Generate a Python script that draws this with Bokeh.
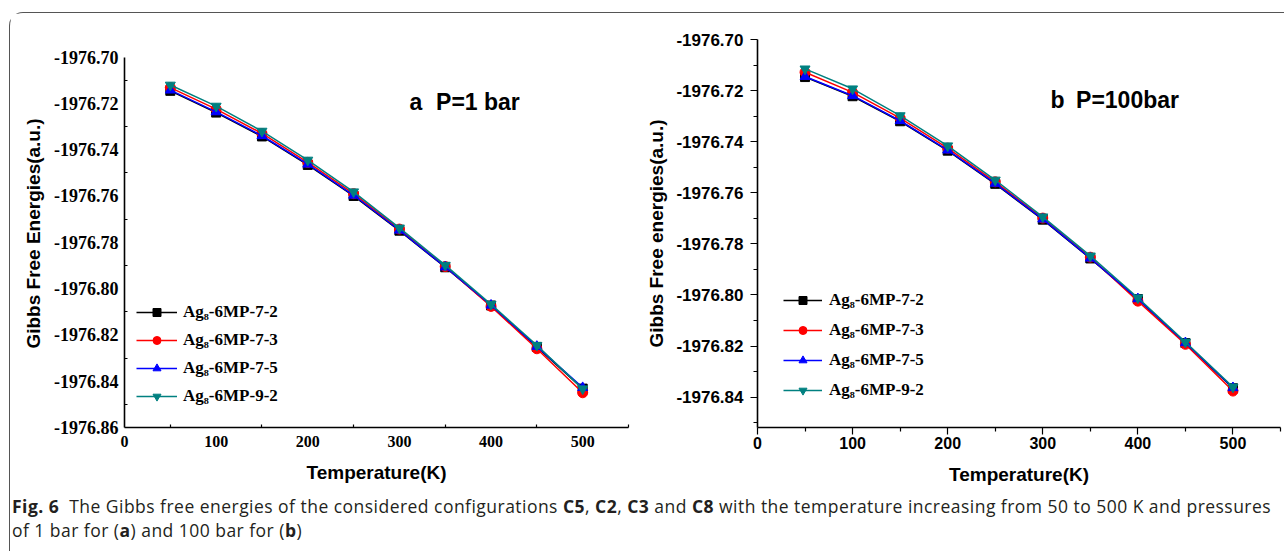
from bokeh.plotting import figure
from bokeh.models import (Range1d, FixedTicker, PrintfTickFormatter, Legend,
                          LegendItem, Label, Div)
from bokeh.layouts import row, column
from bokeh.embed import file_html
from bokeh.resources import INLINE

# ---------------- data ----------------
temperature = [50, 100, 150, 200, 250, 300, 350, 400, 450, 500]
series_names = ["Ag\u2088-6MP-7-2", "Ag\u2088-6MP-7-3", "Ag\u2088-6MP-7-5", "Ag\u2088-6MP-9-2"]

# panel a, P = 1 bar
a_7_2 = [-1976.7146, -1976.7240, -1976.7343, -1976.7466, -1976.7600,
         -1976.7750, -1976.7908, -1976.8073, -1976.8252, -1976.8432]
a_7_3 = [-1976.7132, -1976.7225, -1976.7330, -1976.7455, -1976.7590,
         -1976.7743, -1976.7905, -1976.8077, -1976.8260, -1976.8450]
a_7_5 = [-1976.7143, -1976.7237, -1976.7340, -1976.7463, -1976.7597,
         -1976.7748, -1976.7907, -1976.8072, -1976.8250, -1976.8428]
a_9_2 = [-1976.7121, -1976.7212, -1976.7320, -1976.7445, -1976.7582,
         -1976.7738, -1976.7899, -1976.8068, -1976.8245, -1976.8433]

# panel b, P = 100 bar
b_7_2 = [-1976.7147, -1976.7222, -1976.7320, -1976.7435, -1976.7565,
         -1976.7705, -1976.7857, -1976.8016, -1976.8188, -1976.8365]
b_7_3 = [-1976.7128, -1976.7207, -1976.7308, -1976.7425, -1976.7557,
         -1976.7699, -1976.7852, -1976.8024, -1976.8193, -1976.8376]
b_7_5 = [-1976.7145, -1976.7220, -1976.7318, -1976.7433, -1976.7563,
         -1976.7703, -1976.7856, -1976.8015, -1976.8187, -1976.8363]
b_9_2 = [-1976.7115, -1976.7193, -1976.7298, -1976.7416, -1976.7550,
         -1976.7694, -1976.7847, -1976.8011, -1976.8184, -1976.8360]

x_ticks = [0, 100, 200, 300, 400, 500]
x_minor = [50, 150, 250, 350, 450, 550]
a_y_ticks = [-1976.70, -1976.72, -1976.74, -1976.76, -1976.78, -1976.80,
             -1976.82, -1976.84, -1976.86]
a_y_minor = [-1976.71, -1976.73, -1976.75, -1976.77, -1976.79, -1976.81,
             -1976.83, -1976.85]
b_y_ticks = [-1976.70, -1976.72, -1976.74, -1976.76, -1976.78, -1976.80,
             -1976.82, -1976.84]
b_y_minor = [-1976.71, -1976.73, -1976.75, -1976.77, -1976.79, -1976.81,
             -1976.83, -1976.85]

colors = ["black", "red", "blue", "#008080"]
markers = ["square", "circle", "triangle", "inverted_triangle"]
marker_sizes = [9, 10, 10, 10]

SANS = "Liberation Sans"
SERIF = "Liberation Serif"


def make_panel(series, width, height, borders, y_range, y_bounds, y_ticks,
               y_minor, tick_font, y_tick_size, x_tick_size, ticks_out,
               x_title_standoff, y_title_standoff, x_label_standoff,
               y_label_standoff, ylabel, legend_loc, legend_glyph_w,
               legend_standoff, legend_spacing, annot_x, annot_px, annot_y,
               letter, ptext):
    left, right, top, bottom = borders
    p = figure(width=width, height=height, output_backend="svg",
               toolbar_location=None, x_range=Range1d(0, 550),
               y_range=Range1d(*y_range), min_border_left=left,
               min_border_right=right, min_border_top=top,
               min_border_bottom=bottom)
    p.outline_line_color = None
    p.grid.visible = False
    p.background_fill_color = "white"
    p.border_fill_color = "white"

    p.xaxis.ticker = FixedTicker(ticks=x_ticks, minor_ticks=x_minor)
    p.yaxis.ticker = FixedTicker(ticks=y_ticks, minor_ticks=y_minor)
    p.yaxis.formatter = PrintfTickFormatter(format="%.2f")
    p.xaxis.formatter = PrintfTickFormatter(format="%d")
    p.yaxis.bounds = y_bounds

    for ax in (p.xaxis, p.yaxis):
        ax.axis_line_color = "black"
        ax.axis_line_width = 1.6
        ax.major_tick_line_color = "black"
        ax.minor_tick_line_color = "black"
        ax.major_tick_line_width = 1.2
        ax.minor_tick_line_width = 1.2
        ax.major_label_text_font = tick_font
        ax.major_label_text_font_style = "bold"
        ax.major_label_text_color = "black"
        ax.axis_label_text_font = SANS
        ax.axis_label_text_font_style = "bold"
        ax.axis_label_text_font_size = "19px"
        ax.axis_label_text_color = "black"
        if ticks_out:
            ax.major_tick_out = 7
            ax.major_tick_in = 0
            ax.minor_tick_out = 4
            ax.minor_tick_in = 0
        else:
            ax.major_tick_out = 0
            ax.major_tick_in = 0
            ax.minor_tick_out = 0
            ax.minor_tick_in = 3
    p.yaxis.major_label_text_font_size = y_tick_size
    p.xaxis.major_label_text_font_size = x_tick_size

    p.xaxis.axis_label = "Temperature(K)"
    p.yaxis.axis_label = ylabel
    p.xaxis.axis_label_standoff = x_title_standoff
    p.yaxis.axis_label_standoff = y_title_standoff
    p.xaxis.major_label_standoff = x_label_standoff
    p.yaxis.major_label_standoff = y_label_standoff

    items = []
    for name, vals, c, m, s in zip(series_names, series, colors, markers,
                                   marker_sizes):
        lr = p.line(temperature, vals, line_color=c, line_width=1.5)
        sr = p.scatter(temperature, vals, marker=m, size=s, fill_color=c,
                       line_color=c)
        items.append(LegendItem(label=name, renderers=[lr, sr]))

    leg = Legend(items=items, location=legend_loc, padding=0, margin=0,
                 spacing=legend_spacing, glyph_width=legend_glyph_w,
                 glyph_height=20, label_height=20,
                 label_standoff=legend_standoff,
                 label_text_font=SERIF, label_text_font_style="bold",
                 label_text_font_size="17px", label_text_color="black",
                 border_line_color=None, background_fill_alpha=0.0)
    p.add_layout(leg)

    p.add_layout(Label(x=annot_x, y=annot_y, text=letter, text_font=SANS,
                       text_font_style="bold", text_font_size="23px",
                       text_baseline="middle", text_color="black"))
    p.add_layout(Label(x=annot_px, y=annot_y, text=ptext, text_font=SANS,
                       text_font_style="bold", text_font_size="23px",
                       text_baseline="middle", text_color="black"))
    return p


pa = make_panel([a_7_2, a_7_3, a_7_5, a_9_2], 629, 476, (114, 11, 26, 62),
                (-1976.86, -1976.69243), (-1976.86, -1976.70),
                a_y_ticks, a_y_minor, SERIF, "18px", "16px",
                False, 12, 7, 8, 6, "Gibbs Free Energies(a.u.)", (12, 21),
                41, 6, 8, 311, 340, -1976.7193, "a", "P=1 bar")
pb = make_panel([b_7_2, b_7_3, b_7_5, b_9_2], 644, 476, (118, 3, 26, 62),
                (-1976.85186, -1976.70), (-1976.85186, -1976.70),
                b_y_ticks, b_y_minor, SANS, "17px", "16px",
                True, 12, 6, 2, 7, "Gibbs Free energies(a.u.)", (26, 27),
                39, 7, 10, 308, 335, -1976.7238, "b", "P=100bar")

caption = Div(
    text=("<b>Fig. 6</b>&nbsp; The Gibbs free energies of the considered "
          "configurations <b>C5</b>, <b>C2</b>, <b>C3</b> and <b>C8</b> with "
          "the temperature increasing from 50 to 500 K and pressures<br>"
          "of 1 bar for (<b>a</b>) and 100 bar for (<b>b</b>)"),
    width=1266, height=52,
    styles={"font-family": "Open Sans", "font-size": "17.5px",
            "line-height": "24px", "letter-spacing": "0.47px",
            "color": "#231f20", "padding-left": "0px", "padding-top": "0px",
            "white-space": "nowrap", "position": "relative",
            "left": "-3px"})

layout = column(row(pa, pb), caption,
                styles={"border-left": "1.5px solid #555",
                        "border-top": "1.5px solid #555",
                        "border-top-left-radius": "14px",
                        "margin-top": "12px", "margin-left": "9px"})

with open("out.html", "w") as f:
    f.write(file_html(layout, INLINE))
